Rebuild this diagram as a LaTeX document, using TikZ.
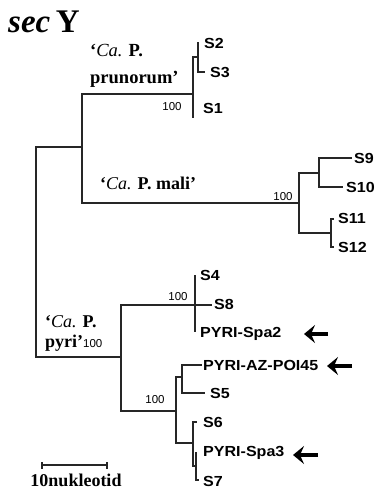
\documentclass[tikz,border=0pt]{standalone}
\usepackage{fontspec}
\setmainfont{Liberation Serif}
\newfontfamily\taxfont[FakeStretch=1.1]{Liberation Sans}
\newfontfamily\numfont{Liberation Sans}
\usetikzlibrary{arrows.meta}
\begin{document}
\begin{tikzpicture}[x=1pt,y=-1pt,
  br/.style={line width=1.1pt, draw=black!85},
  tx/.style={anchor=west, inner sep=0pt, font=\taxfont\bfseries\fontsize{14.6}{15}\selectfont},
  bs/.style={inner sep=0pt, font=\numfont\fontsize{11.5}{12}\selectfont},
  cl/.style={anchor=west, inner sep=0pt, align=left},
  mk/.style={line width=3.6pt, -{Stealth[length=11pt,width=18pt,inset=4pt]}}]
\useasboundingbox (0,0) rectangle (375,491);
% internal nodes and tips
\coordinate (root) at (36,252);
\coordinate (A) at (82,147);
\coordinate (prun) at (193,94);
\coordinate (sub23) at (198,57);
\coordinate (t2) at (198,42);
\coordinate (t3) at (205,72);
\coordinate (t1) at (193,118);
\coordinate (mali) at (299,203);
\coordinate (m1) at (319,173);
\coordinate (t9) at (352,158);
\coordinate (t10) at (343,187);
\coordinate (m2) at (331,233);
\coordinate (t11) at (334,219);
\coordinate (t12) at (334,247);
\coordinate (pyri) at (121,357);
\coordinate (p1) at (195,305);
\coordinate (t4) at (195,275);
\coordinate (t8) at (212,305);
\coordinate (tsp2) at (195,332);
\coordinate (p2) at (176,411);
\coordinate (p3) at (182,377);
\coordinate (taz) at (202,365);
\coordinate (t5) at (205,393);
\coordinate (p4) at (193,443);
\coordinate (t6) at (197,422);
\coordinate (p5) at (196,466);
\coordinate (tsp3) at (196,452);
\coordinate (t7) at (199,480);
% branches
\draw[br] (root) |- (A);
\draw[br] (root) |- (pyri);
\draw[br] (A) |- (prun);
\draw[br] (A) |- (mali);
\draw[br] (prun) |- (sub23);
\draw[br] (prun) -- (t1);
\draw[br] (sub23) -- (t2);
\draw[br] (sub23) |- (t3);
\draw[br] (mali) |- (m1);
\draw[br] (mali) |- (m2);
\draw[br] (m1) |- (t9);
\draw[br] (m1) |- (t10);
\draw[br] (m2) |- (t11);
\draw[br] (m2) |- (t12);
\draw[br] (pyri) |- (p1);
\draw[br] (pyri) |- (p2);
\draw[br] (p1) -- (t4);
\draw[br] (p1) -- (t8);
\draw[br] (p1) -- (tsp2);
\draw[br] (p2) |- (p3);
\draw[br] (p2) |- (p4);
\draw[br] (p3) |- (taz);
\draw[br] (p3) |- (t5);
\draw[br] (p4) |- (t6);
\draw[br] (p4) |- (p5);
\draw[br] (p5) -- (tsp3);
\draw[br] (p5) |- (t7);
% taxa
\node[tx] (S2) at (204,43) {S2};
\node[tx] (S3) at (210,72) {S3};
\node[tx] (S1) at (203,108) {S1};
\node[tx] (S9) at (354,158) {S9};
\node[tx] (S10) at (346,187) {S10};
\node[tx] (S11) at (338,218) {S11};
\node[tx] (S12) at (338,247) {S12};
\node[tx] (S4) at (200,275) {S4};
\node[tx] (S8) at (214,304) {S8};
\node[tx] (Spa2) at (200,334) {PYRI-Spa2};
\node[tx] (AZ) at (203,365) {PYRI-AZ-POI45};
\node[tx] (S5) at (210,393) {S5};
\node[tx] (S6) at (203,422) {S6};
\node[tx] (Spa3) at (203,453) {PYRI-Spa3};
\node[tx] (S7) at (203,481) {S7};
% bootstrap values
\node[bs] (b1) at (172,107) {100};
\node[bs] (b2) at (283,197) {100};
\node[bs] (b3) at (178,297) {100};
\node[bs] (b4) at (155,400) {100};
% clade labels
\node[cl, font=\bfseries\fontsize{18.5}{27}\selectfont] (cprun) at (90,66) {‘\textit{\mdseries Ca.} P.\\prunorum’};
\node[cl, font=\bfseries\fontsize{18}{20}\selectfont] (cmali) at (100,183) {‘\textit{\mdseries Ca.} P. mali’};
\node[cl, font=\bfseries\fontsize{18}{20}\selectfont] (cpyri) at (45,333) {‘\textit{\mdseries Ca.} P.\\pyri’{\numfont\mdseries\fontsize{11.5}{12}\selectfont 100}};
% title
\node[anchor=west, inner sep=0pt, font=\bfseries\fontsize{33}{33}\selectfont] (title) at (8,22) {\textit{sec}\,Y};
% scale bar
\coordinate (sbl) at (42,465);
\coordinate (sbr) at (107,465);
\draw[br] (sbl) -- (sbr);
\draw[br] ([yshift=-3.5pt]sbl) -- ([yshift=3.5pt]sbl);
\draw[br] ([yshift=-3.5pt]sbr) -- ([yshift=3.5pt]sbr);
\node[inner sep=0pt, font=\bfseries\fontsize{18}{18}\selectfont] (sbt) at (76,480.5) {10nukleotid};
% arrows
\coordinate (a1s) at (328,334); \coordinate (a1e) at (304,334);
\coordinate (a2s) at (352,366); \coordinate (a2e) at (327,366);
\coordinate (a3s) at (318,455); \coordinate (a3e) at (293,455);
\draw[mk] (a1s) -- (a1e);
\draw[mk] (a2s) -- (a2e);
\draw[mk] (a3s) -- (a3e);
\end{tikzpicture}
\end{document}
